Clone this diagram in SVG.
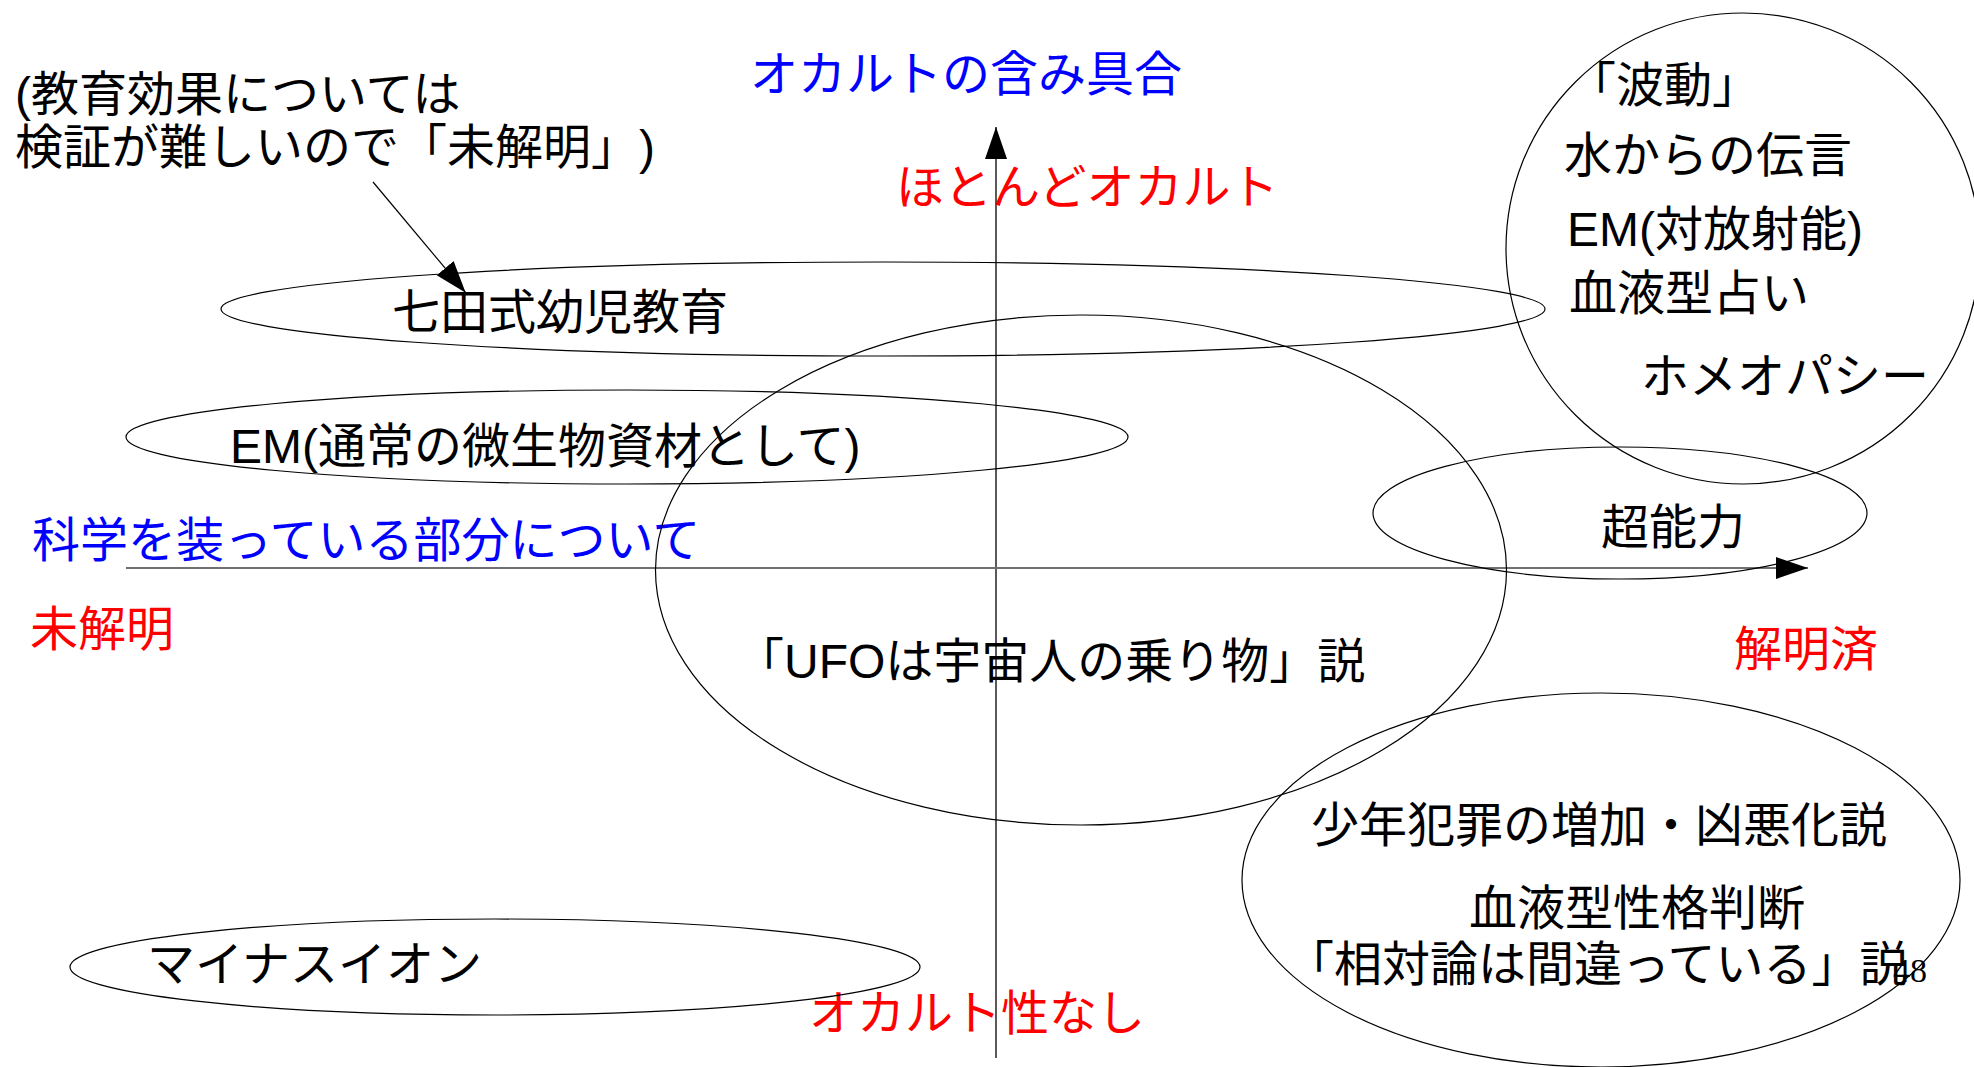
<svg xmlns="http://www.w3.org/2000/svg" width="1974" height="1067" viewBox="0 0 1974 1067">
<style>
  text { font-family: "Liberation Sans", "Noto Sans CJK JP", sans-serif; font-size: 48px; fill: #000; text-spacing-trim: space-all; }
  .blue { fill: #0000ff; }
  .red { fill: #ff0000; }
  .oval { fill: none; stroke: #000; stroke-width: 1.2; }
  .pg { font-family: "Liberation Serif", serif; font-size: 34px; }
</style>
<defs>
  <marker id="ah" markerUnits="userSpaceOnUse" markerWidth="34" markerHeight="24" refX="32" refY="11" orient="auto">
    <path d="M0,0 L32,11 L0,22 z" fill="#000"/>
  </marker>
</defs>
<rect width="1974" height="1067" fill="#fff"/>

<g id="connectors">
  <line x1="996" y1="1058" x2="996" y2="127" stroke="#000" stroke-width="1.3" marker-end="url(#ah)"/>
  <line x1="126" y1="568" x2="1808" y2="568" stroke="#707070" stroke-width="2" marker-end="url(#ah)"/>
  <line x1="373" y1="182" x2="465.7" y2="292.7" stroke="#000" stroke-width="1.2" marker-end="url(#ah)"/>
</g>

<g id="note">
  <text x="15" y="111">(教育効果については</text>
  <text x="15" y="164">検証が難しいので「未解明」)</text>
</g>

<g id="axis-labels">
  <text class="blue" x="750" y="91">オカルトの含み具合</text>
  <text class="red" x="896" y="204">ほとんどオカルト</text>
  <text class="blue" x="32" y="557">科学を装っている部分について</text>
  <text class="red" x="30" y="646">未解明</text>
  <text class="red" x="1734" y="666">解明済</text>
  <text class="red" x="809" y="1030">オカルト性なし</text>
</g>

<g id="shichida">
  <ellipse class="oval" cx="883" cy="309" rx="662" ry="47"/>
  <text x="392" y="329">七田式幼児教育</text>
</g>

<g id="em-normal">
  <ellipse class="oval" cx="627" cy="437" rx="501" ry="47"/>
  <text x="230" y="463">EM(通常の微生物資材として)</text>
</g>

<g id="ufo">
  <ellipse class="oval" cx="1081" cy="570" rx="425.5" ry="255"/>
  <text x="736" y="678">「UFOは宇宙人の乗り物」説</text>
</g>

<g id="occult-circle">
  <ellipse class="oval" cx="1743" cy="248.5" rx="237" ry="235.5"/>
  <text x="1568" y="102">「波動」</text>
  <text x="1564" y="172">水からの伝言</text>
  <text x="1567" y="246">EM(対放射能)</text>
  <text x="1569" y="310">血液型占い</text>
  <text x="1641" y="393">ホメオパシー</text>
</g>

<g id="psychic">
  <ellipse class="oval" cx="1620" cy="513" rx="247" ry="66"/>
  <text x="1601" y="544">超能力</text>
</g>

<g id="pseudo-social">
  <ellipse class="oval" cx="1601" cy="880" rx="359" ry="187"/>
  <text x="1311" y="842">少年犯罪の増加・凶悪化説</text>
  <text x="1469" y="925">血液型性格判断</text>
  <text x="1286" y="981">「相対論は間違っている」説</text>
</g>

<g id="minus-ion">
  <ellipse class="oval" cx="495" cy="967" rx="425" ry="48"/>
  <text x="147" y="981">マイナスイオン</text>
</g>

<g id="page-number">
  <text class="pg" x="1893" y="982">48</text>
</g>
</svg>
